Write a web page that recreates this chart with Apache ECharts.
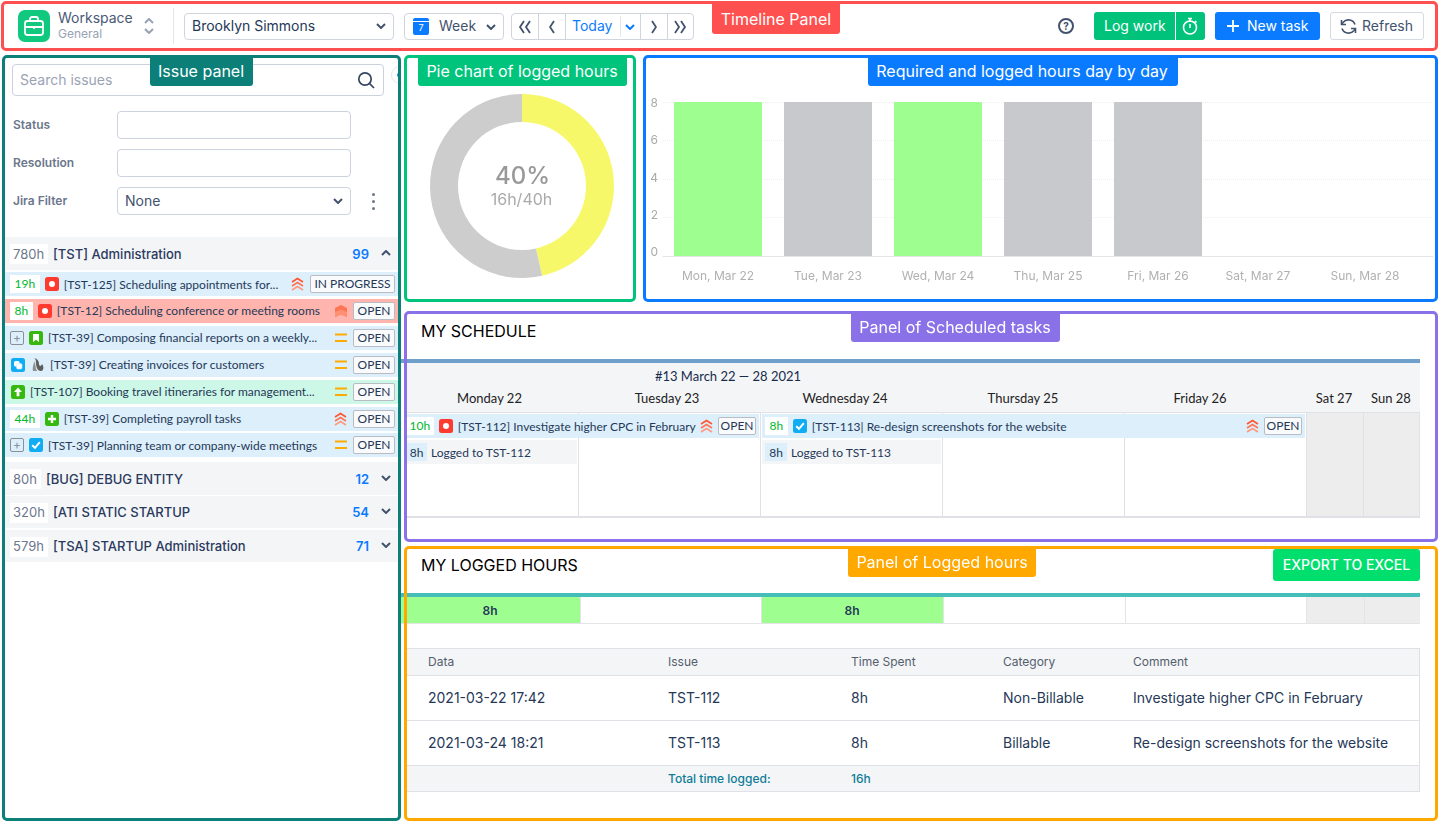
<!DOCTYPE html>
<html>
<head>
<meta charset="utf-8">
<title>Timesheet overview</title>
<script src="https://cdn.jsdelivr.net/npm/echarts@6/dist/echarts.min.js"></script>
<style>
    html,body{margin:0;padding:0;background:#fff;width:1440px;height:822px;overflow:hidden;font-family:Inter,sans-serif;}
    #page{position:relative;width:1440px;height:822px;overflow:hidden;}
    .a{position:absolute;box-sizing:border-box;}
    .t{position:absolute;white-space:nowrap;height:20px;line-height:20px;}
    .lato{font-family:Lato,sans-serif;}
    .row{position:absolute;display:flex;align-items:center;box-sizing:border-box;font-family:Lato,sans-serif;font-size:12px;color:#253858;white-space:nowrap;}
    .hrs{background:#fff;color:#00b82e;height:18px;line-height:18px;padding:0 4.5px;margin-right:5px;}
    .badge{position:absolute;height:18px;line-height:16px;box-sizing:border-box;border:1px solid #b9bcc2;border-radius:2px;background:#f9fafb;padding:0 3.5px;}
    svg{display:block;}
</style>
</head>
<body>
<div id="page"></div>
<script>
// chart values
const dayLabels = ['Mon, Mar 22','Tue, Mar 23','Wed, Mar 24','Thu, Mar 25','Fri, Mar 26','Sat, Mar 27','Sun, Mar 28'];
const loggedHours = [8,0,8,0,0,0,0];
const openHours = [0,8,0,8,8,0,0];
const yTicks = [0,2,4,6,8];
const pieShares = [46.5,53.5];
const pieNames = ['Logged','Remaining'];
const pieLabel = ['40%','16h/40h'];

// issue panel
const formFilters = [['Status',''],['Resolution',''],['Jira Filter','None']];
const openGroup = {hours:'780h',name:'[TST] Administration',count:'99',up:true};
const closedGroups = [
    {hours:'80h',name:'[BUG] DEBUG ENTITY',count:'12'},
    {hours:'320h',name:'[ATI STATIC STARTUP',count:'54'},
    {hours:'579h',name:'[TSA] STARTUP Administration',count:'71'}
];
const issueRows = [
    {hours:'19h',icon:'bug',title:'[TST-125] Scheduling appointments for...',prio:'high',status:'IN PROGRESS',bg:'#dcEFfb'},
    {hours:'8h',icon:'bug',title:'[TST-12] Scheduling conference or meeting rooms',prio:'top',status:'OPEN',bg:'#ffb5ae'},
    {plus:true,icon:'story',title:'[TST-39] Composing financial reports on a weekly...',prio:'mid',status:'OPEN',bg:'#dcEFfb'},
    {icon:'copy',avatar:true,title:'[TST-39] Creating invoices for customers',prio:'mid',status:'OPEN',bg:'#dcEFfb'},
    {icon:'up',title:'[TST-107] Booking travel itineraries for management...',prio:'mid',status:'OPEN',bg:'#cdf7e6'},
    {hours:'44h',icon:'add',title:'[TST-39] Completing payroll tasks',prio:'high',status:'OPEN',bg:'#dcEFfb'},
    {plus:true,icon:'check',title:'[TST-39] Planning team or company-wide meetings',prio:'mid',status:'OPEN',bg:'#dcEFfb'}
];

// schedule
const weekTitle = '#13 March 22 — 28 2021';
const weekDays = ['Monday 22','Tuesday 23','Wednesday 24','Thursday 25','Friday 26','Sat 27','Sun 28'];
const scheduleTasks = [
    {hours:'10h',tightHours:true,tight:true,icon:'bug',title:'[TST-112] Investigate higher CPC in February',prio:'high',status:'OPEN',bg:'#dcEFfb'},
    {hours:'8h',tight:true,icon:'check',title:'[TST-113| Re-design screenshots for the website',prio:'high',status:'OPEN',bg:'#dcEFfb'}
];
const scheduleLogs = ['Logged to TST-112','Logged to TST-113'];

// logged hours table
const loggedStrip = ['8h','','8h','','','',''];
const tableHead = ['Data','Issue','Time Spent','Category','Comment'];
const tableRows = [
    ['2021-03-22 17:42','TST-112','8h','Non-Billable','Investigate higher CPC in February'],
    ['2021-03-24 18:21','TST-113','8h','Billable','Re-design screenshots for the website']
];
const tableFoot = ['Total time logged:','16h'];

const page = document.getElementById('page');

function box(x,y,w,h,css,html){
    let d = document.createElement('div');
    d.className = 'a';
    d.style.cssText = `left:${x}px;top:${y}px;width:${w}px;height:${h}px;${css||''}`;
    if(html) d.innerHTML = html;
    page.appendChild(d);
    return d;
}
function txt(x,cy,str,css,cls){
    let d = document.createElement('div');
    d.className = 't '+(cls||'');
    d.style.cssText = `left:${x}px;top:${cy-10}px;${css||''}`;
    d.textContent = str;
    page.appendChild(d);
    return d;
}
// text centred on x
function ctxt(x,cy,str,css,cls){
    return txt(x,cy,str,'transform:translateX(-50%);'+(css||''),cls);
}
function svg(x,cy,w,h,inner){
    return box(x,cy-h/2,w,h,'',`<svg width="${w}" height="${h}" viewBox="0 0 ${w} ${h}" fill="none">${inner}</svg>`);
}
function chev(cx,cy,dir,color,w){
    let c = color||'#42526e', s = w||2;
    let p = {down:'1,1 5,5 9,1',up:'1,5 5,1 9,5'}[dir];
    svg(cx-5,cy,10,6,`<polyline points="${p}" stroke="${c}" stroke-width="${s}"/>`);
}
function side(cx,cy,dir,twin){
    let pts = dir=='left' ? [[5,1,1,7,5,13]] : [[1,1,5,7,1,13]];
    if(twin) pts = dir=='left' ? [[6,1,2,7,6,13],[12,1,8,7,12,13]] : [[2,1,6,7,2,13],[8,1,12,7,8,13]];
    let inner = pts.map(p=>`<polyline points="${p.join(',')}" stroke="#42526e" stroke-width="1.8"/>`).join('');
    let w = twin?14:6;
    svg(cx-w/2,cy,w,14,inner);
}

function iconHtml(kind){
    let glyph = {
        bug:['#ff3b30','<circle cx="7" cy="7" r="3" fill="#fff"/>'],
        story:['#36b80f','<path d="M4 3h6v8L7 8.8 4 11z" fill="#fff"/>'],
        copy:['#10adf5','<rect x="3" y="3" width="5.5" height="5.5" rx="1.5" fill="#fff"/><rect x="5.5" y="5.5" width="5.5" height="5.5" rx="1.5" fill="#fff" stroke="#cdeefd" stroke-width=".6"/>'],
        up:['#36b80f','<path d="M7 2.6 11 7H8.4v4.2H5.6V7H3z" fill="#fff"/>'],
        add:['#36b80f','<path d="M7 3v8M3 7h8" stroke="#fff" stroke-width="2.4"/>'],
        check:['#10adf5','<polyline points="3.2,7.2 6,9.8 10.8,4.2" stroke="#fff" stroke-width="2"/>']
    }[kind];
    return `<svg width="14" height="14" viewBox="0 0 14 14" fill="none" style="flex:none"><rect width="14" height="14" rx="2.5" fill="${glyph[0]}"/>${glyph[1]}</svg>`;
}
function prioHtml(kind){
    if(kind=='mid') return `<svg width="12" height="10" viewBox="0 0 12 10"><rect y="0.5" width="12" height="2" fill="#ffab00"/><rect y="7" width="12" height="2" fill="#ffab00"/></svg>`;
    if(kind=='top') return `<svg width="12" height="12" viewBox="0 0 12 12"><path d="M0 3 6 0 12 3V12L6 9.5 0 12z" fill="#ff7452"/><path d="M0 7 6 4.5 12 7V12L6 9.5 0 12z" fill="#ff8f73"/></svg>`;
    return `<svg width="13" height="14" viewBox="0 0 13 14" fill="none"><polyline points="1,5 6.5,1.5 12,5" stroke="#ff5630" stroke-width="1.7"/><polyline points="1,9 6.5,5.5 12,9" stroke="#ff7452" stroke-width="1.7"/><polyline points="1,13 6.5,9.5 12,13" stroke="#ff9a80" stroke-width="1.7"/></svg>`;
}
function taskRow(x,y,w,task,padLeft,padRight){
    let r = box(x,y,w,24,`background:${task.bg};`);
    r.className = 'a row';
    r.style.paddingLeft = padLeft+'px';
    let inner = '';
    if(task.hours) inner += `<span class="hrs" style="${task.tightHours?'padding:0 3.5px;':''}">${task.hours}</span>`;
    if(task.plus) inner += `<span style="width:14px;height:14px;box-sizing:border-box;border:1px solid #8a8f98;border-radius:2px;margin-right:5px;color:#8a8f98;font:12px/11px Inter;text-align:center;flex:none;">+</span>`;
    if(!task.hours&&!task.plus) inner += `<span style="width:1px;flex:none"></span>`;
    inner += iconHtml(task.icon);
    if(task.avatar) inner += `<svg width="14" height="16" viewBox="0 0 14 16" style="margin-left:6px;flex:none"><path d="M2 1c3 0 3 3 3 5 0 3 1 8 5 8 3 0 3-5 1-7-1 3-3 2-3 0 0-3-2-6-6-6z" fill="#5d5d5d"/><path d="M3 4c2 3 1 7 3 10H2C1 10 3 8 3 4z" fill="#8f8f8f"/></svg>`;
    inner += `<span style="margin-left:5px">${task.title}</span>`;
    r.innerHTML = inner;
    let badge = document.createElement('span');
    badge.className = 'badge';
    badge.style.cssText = `right:${padRight}px;top:3px;${task.tight?'padding:0 1.5px;':''}`;
    badge.textContent = task.status;
    r.appendChild(badge);
    let right = badge.offsetWidth+padRight+(task.tight?5:6);
    let pr = document.createElement('span');
    pr.style.cssText = `position:absolute;right:${right}px;top:${task.prio=='high'?5:task.prio=='mid'?7:6}px;`;
    pr.innerHTML = prioHtml(task.prio);
    r.appendChild(pr);
}
function groupRow(y,h,g){
    box(5,y,394,h,'background:#f4f5f7;');
    let w = g.hours.length==4?38:31;
    box(10,y+6.5,w,20,'background:#fff;');
    txt(13,y+h/2,g.hours,'font-size:13px;color:#6b778c;');
    txt(10+w+5,y+h/2,g.name,'font-size:13px;color:#2a3a5e;font-weight:450;');
    txt(369,y+h/2,g.count,'font-size:13px;color:#0a7bff;font-weight:600;transform:translateX(-100%);');
    chev(386,y+h/2-1,g.up?'up':'down','#42526e');
}

/* 顶部工具栏 */
function renderTopBar(){
    box(18,10,32,32,'background:#10c97f;border-radius:7px;',
        `<svg width="32" height="32" viewBox="0 0 32 32" fill="none" stroke="#fff" stroke-width="1.8"><rect x="7" y="11" width="18" height="14" rx="2.5"/><path d="M12 11V9a2 2 0 0 1 2-2h4a2 2 0 0 1 2 2v2M7 17h18M16 16v3"/></svg>`);
    txt(58,18,'Workspace','font-size:14px;color:#4a5a75;');
    txt(58,33.5,'General','font-size:12px;color:#98a2b3;');
    chev(149,21,'up','#98a2b3');
    chev(149,31,'down','#98a2b3');
    box(173,8,1,36,'background:#e4e7ec;');

    box(184,13,210,27,'border:1px solid #cfd4df;border-radius:4px;');
    txt(192,26,'Brooklyn Simmons','font-size:14px;color:#253858;');
    chev(381,26,'down');

    box(404,13,100,27,'border:1px solid #cfd4df;border-radius:4px;');
    box(413,18,16,17,'background:#0a7bff;border-radius:2px;',
        `<div style="height:3px;border-bottom:1px solid #fff;"></div><div style="color:#fff;font-size:9px;line-height:12px;text-align:center;">7</div>`);
    txt(439,26,'Week','font-size:14px;color:#42526e;');
    chev(491,27,'down');

    box(511,13,183,27,'border:1px solid #cfd4df;border-radius:4px;');
    [538,565,667,640].forEach(x=>box(x,13,1,27,'background:#cfd4df;'));
    box(620,16,1,21,'background:#e4e7ec;');
    side(525,26.5,'left',true);
    side(552,26.5,'left');
    txt(572,26,'Today','font-size:14px;color:#0a7bff;');
    chev(630,27,'down','#0a7bff');
    side(654,26.5,'right');
    side(680,26.5,'right',true);

    box(1058,18,16,16,'border:2px solid #42526e;border-radius:50%;color:#42526e;font:700 10px/12px Inter;text-align:center;','?');

    box(1094,12,111,28,'background:#00c27a;border-radius:3px;');
    box(1175,12,1,28,'background:#fff;');
    txt(1104,26,'Log work','font-size:14px;color:#fff;');
    svg(1181,26,18,20,`<circle cx="9" cy="11.5" r="6.5" stroke="#fff" stroke-width="1.6"/><path d="M7 2.5h4M9 2.5v3M9 8v4M14 5l1.5 1.5" stroke="#fff" stroke-width="1.6"/>`);

    box(1215,12,105,28,'background:#0a7bff;border-radius:3px;');
    svg(1226,26,14,14,`<path d="M7 1v12M1 7h12" stroke="#fff" stroke-width="1.8"/>`);
    txt(1247,26,'New task','font-size:14px;color:#fff;');

    box(1330,12,94,28,'border:1px solid #d5d9e2;border-radius:3px;');
    svg(1340,26,17,17,`<path d="M15 6.5A7 7 0 0 0 3 4.5L1.5 6.5M2 10.5A7 7 0 0 0 14 12.5l1.5-2" stroke="#42526e" stroke-width="1.6"/><path d="M1.5 2v4.5H6M15.5 15v-4.5H11" stroke="#42526e" stroke-width="1.6"/>`);
    txt(1362,26,'Refresh','font-size:14px;color:#42526e;');
}

/* 问题面板 */
function renderIssuePanel(){
    box(12,64,372,32,'border:1px solid #ccd2de;border-radius:4px;');
    txt(20,80,'Search issues','font-size:14px;color:#9aa3b5;');
    svg(357,80,18,18,`<circle cx="8" cy="8" r="6.2" stroke="#344563" stroke-width="1.7"/><path d="M12.5 12.5 17 17" stroke="#344563" stroke-width="1.7"/>`);
    box(391,66,18,18,'border:1px solid #e4e7ec;border-radius:50%;background:#fff;');
    box(397,73,4,4,'background:#0a7bff;border-radius:50%;');
    box(402,60,10,40,'background:#fff;');

    [125,163,201].forEach((cy,i)=>{
        txt(13,cy,formFilters[i][0],'font-size:12px;font-weight:600;color:#6b778c;');
        box(117,cy-14,234,28,'border:1px solid #ccd2de;border-radius:4px;');
        if(formFilters[i][1]) txt(125,cy,formFilters[i][1],'font-size:14px;color:#42526e;');
    });
    chev(338,201,'down');
    [194,201,208].forEach(y=>box(371.5,y-1,3,3,'background:#6b778c;border-radius:50%;'));

    groupRow(237,33,openGroup);
    issueRows.forEach((task,i)=>taskRow(5,272+26.9*i,394,task,5,4));
    [[462,33],[496,32],[530,32]].forEach((p,i)=>groupRow(p[0],p[1],closedGroups[i]));
}

/* 排期面板 */
function renderSchedule(){
    txt(421,331,'MY SCHEDULE','font-size:16px;font-weight:400;color:#000;');
    box(400,359,1020,4,'background:#6f9fcb;');
    box(406,363,1014,49,'background:#f4f5f7;');
    ctxt(728,376,weekTitle,'font-size:13px;color:#172b4d;','lato');
    let centers = [489.5,667,845,1023,1200,1334,1391];
    weekDays.forEach((d,i)=>ctxt(centers[i],398,d,'font-size:13px;color:#222;','lato'));
    box(1306,413,114,103,'background:#ededed;');
    box(406,412,1014,1,'background:#dfe1e6;');
    box(406,516,1014,1.5,'background:#dfe1e6;');
    [578,760,942,1124,1306,1363,1419].forEach(x=>box(x,412,1,104,'background:#dfe1e6;'));

    taskRow(406,414,353,scheduleTasks[0],0,3);
    taskRow(762,414,543,scheduleTasks[1],3,3);
    [[406,171,0,21],[762,179,3,22]].forEach((p,i)=>{
        box(p[0],440,p[1],24,'background:#f4f5f7;');
        box(p[0]+p[2],443,p[3],18,'background:#dcEFfb;');
        ctxt(p[0]+p[2]+p[3]/2,452.5,'8h','font-size:12px;color:#253858;','lato');
        txt(p[0]+p[2]+p[3]+4,452.5,scheduleLogs[i],'font-size:12px;color:#253858;','lato');
    });
}

/* 已记录工时面板 */
function renderLogged(){
    txt(421,565,'MY LOGGED HOURS','font-size:16px;font-weight:400;color:#000;');
    box(1273,549,147,32,'background:#00df6e;border-radius:3px;');
    ctxt(1346.5,565,'EXPORT TO EXCEL','font-size:14px;font-weight:500;color:#fff;');
    box(400,593,1020,4,'background:#45bdb9;');

    let edges = [400,580,761,943,1125,1306,1364,1420];
    loggedStrip.forEach((v,i)=>{
        let bg = v ? '#9eff90' : (i>4 ? '#ededed' : '#fff');
        box(edges[i],597,edges[i+1]-edges[i],26,`background:${bg};`);
        if(v) ctxt((edges[i]+edges[i+1])/2,611,v,'font-size:12px;font-weight:600;color:#253858;');
        if(i>0) box(edges[i],597,1,26,'background:#e2e4e8;');
    });
    box(400,623,1020,1,'background:#e2e4e8;');

    let cols = [428,668,851,1003,1133];
    box(406,648,1014,144,'border:1px solid #dfe1e6;');
    box(407,649,1012,26,'background:#f4f5f7;');
    box(407,766,1012,25,'background:#f4f5f7;');
    [675,720,765].forEach(y=>box(406,y,1014,1,'background:#dfe1e6;'));
    tableHead.forEach((h,i)=>txt(cols[i],662,h,'font-size:12px;color:#555e6d;'));
    tableRows.forEach((r,n)=>{
        r.forEach((v,i)=>txt(cols[i],698+45*n,v,'font-size:14px;color:#253858;'));
    });
    txt(cols[1],779,tableFoot[0],'font-size:12px;font-weight:500;color:#0f7c98;');
    txt(cols[2],779,tableFoot[1],'font-size:12px;font-weight:500;color:#0f7c98;');
}

/* 图表 */
function renderCharts(){
    let pieBox = box(407,58,226,241);
    let pie = echarts.init(pieBox);
    pie.setOption({
        animation:false,
        series:[{
            type:'pie',
            center:[115,128],
            radius:[64,92],
            startAngle:90,
            silent:true,
            label:{show:false},
            labelLine:{show:false},
            data:pieNames.map((name,i)=>({
                name:name,
                value:pieShares[i],
                itemStyle:{color:['#f6f86a','#cdcdcd'][i]}
            }))
        }],
        graphic:[
            {type:'text',style:{x:115.5,y:118.5,align:'center',verticalAlign:'middle',text:pieLabel[0],fontFamily:'Inter',fontWeight:500,fontSize:24,fill:'#999'}},
            {type:'text',style:{x:114.5,y:142,align:'center',verticalAlign:'middle',text:pieLabel[1],fontFamily:'Inter',fontSize:16,fill:'#aaa'}}
        ]
    });

    let barBox = box(646,58,790,241);
    let bar = echarts.init(barBox);
    let tickStyle = {color:'#aaa',fontFamily:'Inter',fontSize:12};
    bar.setOption({
        animation:false,
        grid:{left:17,top:44,width:770,height:154},
        xAxis:{
            type:'category',
            data:dayLabels.map((v,i)=>({
                value:v,
                // 周末标签在原图中略微偏左
                textStyle:i==5?{padding:[0,20,0,0]}:i==6?{padding:[0,26,0,0]}:{}
            })),
            axisLine:{lineStyle:{color:'#e4e4e8'}},
            axisTick:{show:false},
            axisLabel:{color:'#b0b0b0',fontFamily:'Inter',fontSize:12,margin:14,interval:0}
        },
        yAxis:{
            type:'value',
            min:yTicks[0],
            max:yTicks[yTicks.length-1],
            interval:yTicks[1]-yTicks[0],
            axisLine:{show:false},
            axisTick:{show:false},
            axisLabel:{
                margin:5,
                // 原图的刻度文字间距比网格线略小
                formatter:v=>`{l${v}|${v}}`,
                rich:{
                    l0:{...tickStyle,padding:[0,0,8,0]},
                    l2:{...tickStyle,padding:[0,0,4,0]},
                    l4:{...tickStyle,padding:[0,0,2,0]},
                    l6:{...tickStyle},
                    l8:{...tickStyle,padding:[2,0,0,0]}
                }
            },
            splitLine:{lineStyle:{color:'#eee',type:'dotted'}}
        },
        series:[
            {type:'bar',stack:'h',barWidth:88,silent:true,itemStyle:{color:'#9eff90'},data:loggedHours},
            {type:'bar',stack:'h',barWidth:88,silent:true,itemStyle:{color:'#c8c9cc'},data:openHours}
        ]
    });
}

/* 彩色外框和标签 */
function renderFrames(){
    let frames = [
        [1,1,1437,50,'#ff5050'],
        [2,55,399,766,'#0b7f78'],
        [404,55,232,247,'#00c47c'],
        [643,55,795,247,'#0a7bff'],
        [404,311,1034,231,'#8b71e8'],
        [404,546,1034,275,'#ffa800']
    ];
    frames.forEach(f=>box(f[0],f[1],f[2],f[3],`border:3px solid ${f[4]};border-radius:5px;pointer-events:none;`));
    let tags = [
        ['Timeline Panel',712,3,128,31,'#ff5050',776,19],
        ['Issue panel',150,55,103,31,'#0b7f78',201,71],
        ['Pie chart of logged hours',418,55,209,31,'#00c47c',522,71],
        ['Required and logged hours day by day',868,55,310,31,'#0a7bff',1022,71],
        ['Panel of Scheduled tasks',851,313,209,29,'#8b71e8',955,327],
        ['Panel of Logged hours',848,548,188,29,'#ffa800',942,562]
    ];
    tags.forEach(t=>{
        box(t[1],t[2],t[3],t[4],`background:${t[5]};border-radius:0 0 3px 3px;`);
        ctxt(t[6],t[7],t[0],'font-size:16px;color:#fff;');
    });
}

window.onload = ()=>{
    renderTopBar();
    renderIssuePanel();
    renderSchedule();
    renderLogged();
    renderCharts();
    renderFrames();
};
</script>
</body>
</html>
